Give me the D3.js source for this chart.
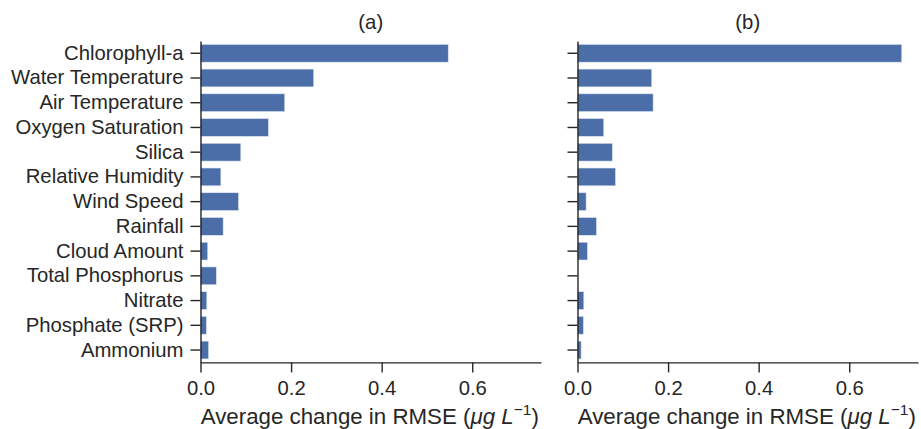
<!DOCTYPE html>
<html>
<head>
<meta charset="utf-8">
<script src="https://cdn.jsdelivr.net/npm/d3@7"></script>
<style>
  html, body { margin: 0; padding: 0; background: #fff; }
  svg { display: block; font-family: "Liberation Sans", Arial, Helvetica, sans-serif; }
  .axis path, .axis line { stroke: #262626; stroke-width: 1.4px; }
  .axis text { fill: #262626; font-size: 20.3px; }
</style>
</head>
<body>
<svg id="chart" width="921" height="429"></svg>
<script>
// Predictor variables, top to bottom
const variables = [
  "Chlorophyll-a", "Water Temperature", "Air Temperature", "Oxygen Saturation",
  "Silica", "Relative Humidity", "Wind Speed", "Rainfall", "Cloud Amount",
  "Total Phosphorus", "Nitrate", "Phosphate (SRP)", "Ammonium"
];

// Average change in RMSE (µg L-1) when each variable is permuted
const rmseChangeA = [0.547, 0.250, 0.186, 0.150, 0.089, 0.045, 0.084, 0.050, 0.016, 0.035, 0.014, 0.013, 0.018];
const rmseChangeB = [0.716, 0.164, 0.167, 0.058, 0.077, 0.084, 0.019, 0.042, 0.022, 0.000, 0.014, 0.013, 0.008];

const panelTitles = ["(a)", "(b)"];
const xTicks = [0, 0.2, 0.4, 0.6];

const svg = d3.select("#chart");
const barColor = "#4b6ea8";
const textColor = "#262626";

// shared x range: max value plus a 5% margin
const xMax = d3.max(rmseChangeA.concat(rmseChangeB)) * 1.05;

const plotTop = 40.9, plotBottom = 362.4;
const y = d3.scaleBand()
  .domain(variables)
  .range([plotTop, plotBottom])
  .paddingInner(0.28)
  .paddingOuter(0.14);

const panels = [
  { values: rmseChangeA, title: panelTitles[0], left: 200.5, right: 541, showLabels: true },
  { values: rmseChangeB, title: panelTitles[1], left: 577.5, right: 918, showLabels: false }
];

panels.forEach(p => {
  const x = d3.scaleLinear().domain([0, xMax]).range([p.left, p.right]);
  const g = svg.append("g");

  // bars
  g.selectAll("rect.bar")
    .data(variables.map((v, i) => ({ name: v, value: p.values[i] })))
    .join("rect")
    .attr("class", "bar")
    .attr("x", x(0))
    .attr("y", d => y(d.name))
    .attr("width", d => x(d.value) - x(0))
    .attr("height", y.bandwidth())
    .attr("fill", barColor)
    .attr("stroke", "#dfe6f1")
    .attr("stroke-width", 0.6);

  // x axis
  const xAxis = d3.axisBottom(x)
    .tickValues(xTicks)
    .tickFormat(d3.format(".1f"))
    .tickSize(10)
    .tickPadding(8.5)
    .tickSizeOuter(0);
  g.append("g")
    .attr("class", "axis")
    .attr("transform", `translate(0,${plotBottom})`)
    .call(xAxis);

  // y axis
  const yAxis = d3.axisLeft(y)
    .tickSize(10)
    .tickPadding(7)
    .tickSizeOuter(0);
  if (!p.showLabels) yAxis.tickFormat("");
  g.append("g")
    .attr("class", "axis")
    .attr("transform", `translate(${p.left},0)`)
    .call(yAxis);

  // panel title
  g.append("text")
    .attr("x", (p.left + p.right) / 2)
    .attr("y", 29)
    .attr("text-anchor", "middle")
    .attr("fill", textColor)
    .style("font-size", "20.3px")
    .text(p.title);

  // x axis label with italic units and superscript
  const lab = g.append("text")
    .attr("x", (p.left + p.right) / 2 - 1)
    .attr("y", 424)
    .attr("text-anchor", "middle")
    .attr("fill", textColor)
    .style("font-size", "22.3px");
  lab.append("tspan").text("Average change in RMSE (");
  lab.append("tspan").style("font-style", "italic").text("\u03BCg L");
  lab.append("tspan").attr("dy", -9).style("font-size", "15.5px").text("\u22121");
  lab.append("tspan").attr("dy", 9).text(")");
});
</script>
</body>
</html>
